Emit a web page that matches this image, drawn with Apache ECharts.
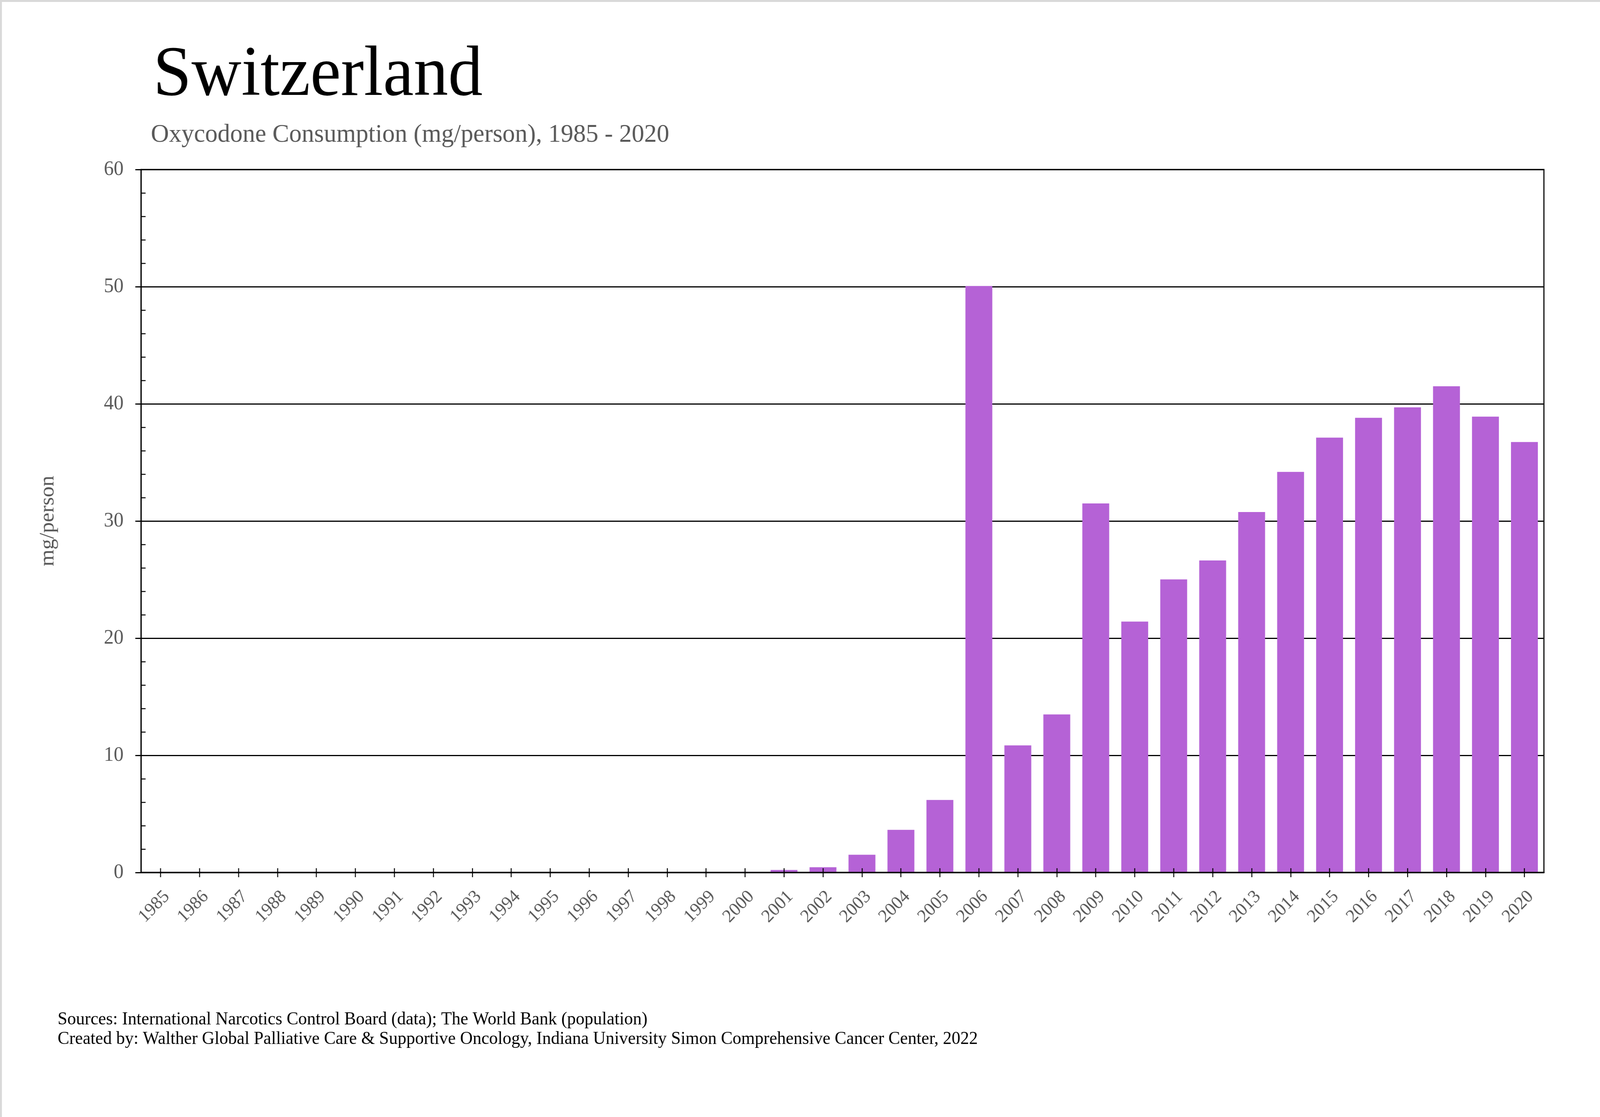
<!DOCTYPE html>
<html>
<head>
<meta charset="utf-8">
<script src="https://cdn.jsdelivr.net/npm/echarts@6/dist/echarts.min.js"></script>
<style>
  html, body { margin: 0; padding: 0; background: #fff; overflow: hidden; }
  #chart { width: 4221px; height: 2860px; transform-origin: 0 0; }
</style>
</head>
<body>
<div id="chart"></div>
<script>
// ---- data ----
const years = ['1985','1986','1987','1988','1989','1990','1991','1992','1993','1994','1995','1996',
  '1997','1998','1999','2000','2001','2002','2003','2004','2005','2006','2007','2008','2009','2010',
  '2011','2012','2013','2014','2015','2016','2017','2018','2019','2020'];
const consumption = [0.05, 0.05, 0.05, 0.05, 0.05, 0.05, 0.05, 0, 0.05, 0, 0, 0,
  0, 0, 0, 0.05, 0.22, 0.45, 1.52, 3.64, 6.19, 50.06, 10.85, 13.49, 31.5, 21.42,
  25.02, 26.63, 30.77, 34.19, 37.12, 38.81, 39.70, 41.50, 38.91, 36.74];
const yTicks = { min: 0, max: 60, interval: 10 };
const titleText = 'Switzerland';
const subtitleText = 'Oxycodone Consumption (mg/person), 1985 - 2020';
const yAxisName = 'mg/person';
const footerLines = [
  'Sources: International Narcotics Control Board (data); The World Bank (population)',
  'Created by: Walther Global Palliative Care & Supportive Oncology, Indiana University Simon Comprehensive Cancer Center, 2022'
];

// ---- fit the 4221x2860 design into the actual viewport ----
const W = 4221, H = 2860;
const el = document.getElementById('chart');
const sx = Math.min(1, (window.innerWidth || W) / W);
const sy = Math.min(1, (window.innerHeight || H) / H);
el.style.transform = 'scale(' + sx + ',' + sy + ')';

// ---- chart ----
const FONT = '"Liberation Serif", "Times New Roman", serif';
const GRAY = '#595959';
const chart = echarts.init(el, null, { renderer: 'canvas', width: W, height: H });

chart.setOption({
  backgroundColor: '#ffffff',
  animation: false,
  title: [
    { text: titleText, left: 404, top: 104, padding: 0,
      textStyle: { fontFamily: FONT, fontSize: 182, lineHeight: 182, fontWeight: 'normal', color: '#000' } },
    { text: subtitleText, left: 398, top: 313, padding: 0,
      textStyle: { fontFamily: FONT, fontSize: 66, lineHeight: 66, fontWeight: 'normal', color: GRAY } },
    { text: footerLines.join('\n'), left: 152, top: 2586, padding: 0,
      textStyle: { fontFamily: FONT, fontSize: 46, lineHeight: 50, fontWeight: 'normal', color: '#000' } }
  ],
  graphic: [
    { type: 'rect', left: 0, top: 0, silent: true,
      shape: { width: W, height: H },
      style: { fill: 'none', stroke: '#d9d9d9', lineWidth: 5 } }
  ],
  grid: {
    left: 372, right: 148, top: 434, bottom: 626,
    show: true, borderColor: '#000', borderWidth: 3, backgroundColor: 'transparent'
  },
  xAxis: [
    {
      type: 'category', data: years, position: 'bottom', z: 3,
      axisLine: { show: true, lineStyle: { color: '#000', width: 3.5 } },
      axisTick: { show: true, alignWithLabel: true, inside: false, length: 12, lineStyle: { color: '#000', width: 2.5 } },
      axisLabel: { interval: 0, rotate: 45, margin: 38, verticalAlign: 'top',
        fontFamily: FONT, fontSize: 47, color: GRAY },
      splitLine: { show: false }
    },
    {
      type: 'category', data: years, position: 'bottom', z: 3,
      axisLine: { show: false },
      axisTick: { show: true, alignWithLabel: true, inside: true, length: 11, lineStyle: { color: '#000', width: 2.5 } },
      axisLabel: { show: false },
      splitLine: { show: false }
    }
  ],
  yAxis: [
    {
      type: 'value', position: 'left', min: yTicks.min, max: yTicks.max, interval: yTicks.interval,
      name: yAxisName, nameLocation: 'middle', nameGap: 218,
      nameTextStyle: { fontFamily: FONT, fontSize: 55, color: GRAY },
      axisLine: { show: true, lineStyle: { color: '#000', width: 2.5 } },
      axisTick: { show: true, inside: false, length: 15, lineStyle: { color: '#000', width: 3 } },
      axisLabel: { margin: 46, fontFamily: FONT, fontSize: 52, color: GRAY },
      splitLine: { show: true, lineStyle: { color: '#000', width: 3 } }
    },
    {
      type: 'value', position: 'left', min: yTicks.min, max: yTicks.max, interval: yTicks.interval,
      axisLine: { show: false },
      axisTick: { show: false, inside: true },
      minorTick: { show: true, splitNumber: 5, length: 12, lineStyle: { color: '#000', width: 2.5 } },
      axisLabel: { show: false },
      splitLine: { show: false }
    }
  ],
  series: [
    {
      type: 'bar', xAxisIndex: 0, yAxisIndex: 0,
      data: consumption,
      barCategoryGap: '31%',
      itemStyle: { color: '#B562D6' }
    }
  ]
});
</script>
</body>
</html>
